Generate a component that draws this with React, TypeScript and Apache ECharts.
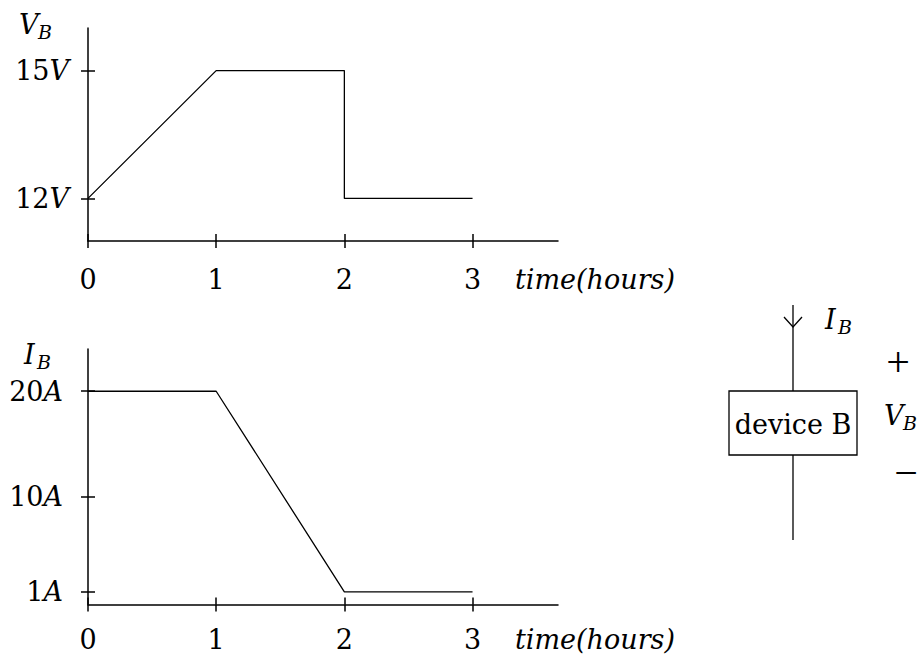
import React, { useEffect, useRef } from "react";
import * as echarts from "echarts";

// Time axis ticks (hours)
const hourTicks = [0, 1, 2, 3];

// Battery voltage V_B over time
const voltageTime = [0, 1, 2, 2, 3];
const voltageValues = [12, 15, 15, 12, 12];
const voltageTicks = [12, 15];

// Battery current I_B over time
const currentTime = [0, 1, 2, 3];
const currentValues = [20, 20, 1, 1];
const currentTicks = [1, 10, 20];

const FAMILY = '"DejaVu Serif", "Liberation Serif", serif';
const THIN_FAMILY = '"Liberation Serif", serif';
const FS = 27;
const SUB_FS = 19;
const INK = "#000";

const zip = (xs: number[], ys: number[]) => xs.map((x, i) => [x, ys[i]]);

const upright = (size: number, family = FAMILY) => `${size}px ${family}`;
const italic = (size: number) => `italic ${size}px ${FAMILY}`;

// A symbol such as V_B drawn as main letter + lowered subscript
function subscripted(x: number, y: number, main: string, sub: string, subDx: number) {
  return [
    {
      type: "text",
      x,
      y,
      style: { text: main, font: italic(FS), fill: INK, align: "left", verticalAlign: "middle" },
    },
    {
      type: "text",
      x: x + subDx,
      y: y + 8,
      style: { text: sub, font: italic(SUB_FS), fill: INK, align: "left", verticalAlign: "middle" },
    },
  ];
}

function seg(x1: number, y1: number, x2: number, y2: number, w = 1.3) {
  return { type: "line", shape: { x1, y1, x2, y2 }, style: { stroke: INK, lineWidth: w } };
}

const axisLineStyle = { color: INK, width: 1.5 };

function xAxes(gridIndex: number, labelMargin: number) {
  const base = {
    gridIndex,
    type: "value",
    min: 0,
    max: 11 / 3,
    position: "bottom",
    splitLine: { show: false },
    axisLine: { show: true, onZero: false, lineStyle: axisLineStyle },
  };
  return [
    {
      ...base,
      axisTick: { show: true, inside: false, length: 7, customValues: hourTicks, lineStyle: axisLineStyle },
      axisLabel: {
        show: true,
        customValues: hourTicks,
        margin: labelMargin,
        lineHeight: 22,
        fontFamily: FAMILY,
        fontSize: FS,
        color: INK,
      },
    },
    {
      ...base,
      axisLine: { show: false, onZero: false },
      axisTick: { show: true, inside: true, length: 7, customValues: hourTicks, lineStyle: axisLineStyle },
      axisLabel: { show: false },
    },
  ];
}

function yAxes(gridIndex: number, min: number, max: number, ticks: number[], unit: string, margin: number) {
  const base = {
    gridIndex,
    type: "value",
    min,
    max,
    position: "left",
    offset: 0,
    splitLine: { show: false },
    axisLine: { show: true, onZero: false, lineStyle: axisLineStyle },
  };
  return [
    {
      ...base,
      axisTick: { show: true, inside: false, length: 7, customValues: ticks, lineStyle: axisLineStyle },
      axisLabel: {
        show: true,
        customValues: ticks,
        margin,
        formatter: (v: number) => `{n|${v}}{u|${unit}}`,
        rich: {
          n: { fontFamily: FAMILY, fontSize: FS, color: INK },
          u: { fontFamily: FAMILY, fontSize: FS, fontStyle: "italic", color: INK },
        },
      },
    },
    {
      ...base,
      axisLine: { show: false, onZero: false },
      axisTick: { show: true, inside: true, length: 7, customValues: ticks, lineStyle: axisLineStyle },
      axisLabel: { show: false },
    },
  ];
}

export default function App() {
  const ref = useRef<HTMLDivElement>(null);

  useEffect(() => {
    if (!ref.current) return;
    const chart = echarts.init(ref.current, null, { renderer: "svg" });

    const axisTitle = (y: number) => ({
      type: "text",
      x: 515,
      y,
      style: {
        text: "time(hours)",
        font: italic(FS),
        fill: INK,
        align: "left",
        verticalAlign: "middle",
        lineHeight: 22,
      },
    });

    const graphic: any[] = [
      // axis titles
      ...subscripted(19, 24, "V", "B", 19),
      ...subscripted(24, 354, "I", "B", 13),
      axisTitle(279),
      axisTitle(639),
      // device B two-terminal element
      seg(793, 305, 793, 391),
      seg(793, 455, 793, 540),
      {
        type: "polyline",
        shape: { points: [[784, 317], [793, 327], [802, 317]] },
        style: { stroke: INK, lineWidth: 1.3, fill: null },
      },
      {
        type: "rect",
        shape: { x: 729, y: 391, width: 128, height: 64 },
        style: { stroke: INK, lineWidth: 1.3, fill: "#fff" },
      },
      {
        type: "text",
        x: 793,
        y: 424,
        style: { text: "device B", font: upright(FS), fill: INK, align: "center", verticalAlign: "middle" },
      },
      ...subscripted(825, 319, "I", "B", 13),
      {
        type: "text",
        x: 898,
        y: 362,
        style: { text: "+", font: upright(42, THIN_FAMILY), fill: INK, align: "center", verticalAlign: "middle" },
      },
      ...subscripted(884, 415, "V", "B", 19),
      {
        type: "text",
        x: 906,
        y: 473,
        style: {
          text: "\u2212",
          font: upright(42, THIN_FAMILY),
          fill: INK,
          align: "center",
          verticalAlign: "middle",
        },
      },
    ];

    const lineSeries = (xi: number, yi: number, data: number[][]) => ({
      type: "line",
      xAxisIndex: xi,
      yAxisIndex: yi,
      data,
      symbol: "none",
      showSymbol: false,
      silent: true,
      lineStyle: { color: INK, width: 1.3 },
    });

    chart.setOption({
      animation: false,
      backgroundColor: "#fff",
      grid: [
        { left: 88, top: 28, width: 470, height: 213 },
        { left: 88, top: 349, width: 470, height: 255.5 },
      ],
      xAxis: [...xAxes(0, 27), ...xAxes(1, 24)],
      yAxis: [
        ...yAxes(0, 11, 16, voltageTicks, "V", 19),
        ...yAxes(1, -0.2, 24, currentTicks, "A", 25),
      ],
      series: [
        lineSeries(0, 0, zip(voltageTime, voltageValues)),
        lineSeries(2, 2, zip(currentTime, currentValues)),
      ],
      graphic,
    });

    return () => chart.dispose();
  }, []);

  return (
    <div
      ref={ref}
      style={{ position: "absolute", left: 0, top: 0, width: 921, height: 655, background: "#fff" }}
    />
  );
}
